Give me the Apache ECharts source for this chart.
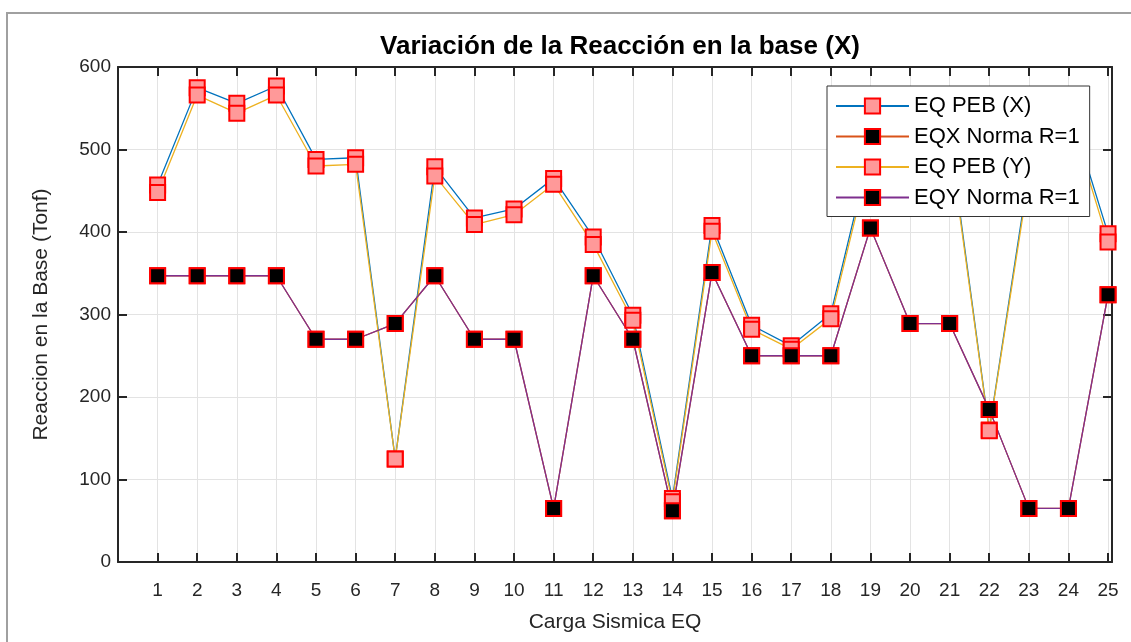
<!DOCTYPE html>
<html>
<head>
<meta charset="utf-8">
<title>Variación de la Reacción en la base (X)</title>
<script src="https://cdn.jsdelivr.net/npm/echarts@6/dist/echarts.min.js"></script>
<style>
  html, body { margin: 0; padding: 0; background: #fff; }
  #chart { width: 1131px; height: 642px; }
</style>
</head>
<body>
<div id="chart"></div>
<script>
// Load case numbers (Carga Sismica EQ)
const cargas = [1, 2, 3, 4, 5, 6, 7, 8, 9, 10, 11, 12, 13, 14, 15, 16, 17, 18, 19, 20, 21, 22, 23, 24, 25];

// Base reaction (Tonf) per load case
const eqPebX   = [457, 575, 556, 577, 488, 490, 125, 479, 417, 428, 465, 394, 299, 77, 408, 287, 262, 301, 500, 512, 516, 160, 473, 553, 398];
const eqxNorma = [347, 347, 347, 347, 270, 270, 289, 347, 270, 270, 65, 347, 270, 62, 351, 250, 250, 250, 405, 289, 289, 185, 65, 65, 324];
const eqPebY   = [448, 566, 544, 566, 480, 482, 125, 468, 409, 421, 458, 385, 293, 73, 401, 282, 258, 295, 492, 504, 510, 159, 466, 546, 388];
const eqyNorma = [347, 347, 347, 347, 270, 270, 289, 347, 270, 270, 65, 347, 270, 62, 351, 250, 250, 250, 405, 289, 289, 185, 65, 65, 324];

const yTicks = [0, 100, 200, 300, 400, 500, 600];

const chart = echarts.init(document.getElementById('chart'), null, { renderer: 'canvas' });

const FONT = 'Liberation Sans, Arial, Helvetica, sans-serif';
const AXIS_COLOR = '#262626';
const GRID_COLOR = '#e3e3e3';

function pairs(values) {
  return cargas.map((c, i) => [c, values[i]]);
}

function lineSeries(name, values, lineColor, fill) {
  return {
    name: name,
    type: 'line',
    data: pairs(values),
    symbol: 'rect',
    symbolSize: 15,
    showSymbol: true,
    lineStyle: { color: lineColor, width: 1.3 },
    itemStyle: { color: fill, borderColor: '#ff0000', borderWidth: 2 },
    emphasis: { disabled: true },
    animation: false
  };
}

const boxLine = { show: true, onZero: false, lineStyle: { color: AXIS_COLOR, width: 2 } };
const boxTick = { show: true, inside: true, length: 9, lineStyle: { color: AXIS_COLOR, width: 2 } };

const option = {
  backgroundColor: '#ffffff',
  animation: false,
  title: {
    text: 'Variación de la Reacción en la base (X)',
    left: 615,
    top: 29,
    textAlign: 'center',
    textStyle: { fontFamily: FONT, fontSize: 26, fontWeight: 'bold', color: '#000' }
  },
  grid: { left: 118, right: 19, top: 67, bottom: 80, containLabel: false },
  legend: {
    orient: 'vertical',
    left: 827,
    top: 86,
    padding: [9, 10, 8, 8],
    itemWidth: 73,
    itemHeight: 19,
    itemGap: 8.5,
    backgroundColor: '#ffffff',
    borderColor: '#333333',
    borderWidth: 1,
    textStyle: { fontFamily: FONT, fontSize: 22, color: '#000', lineHeight: 19 },
    data: ['EQ PEB (X)', 'EQX Norma R=1', 'EQ PEB (Y)', 'EQY Norma R=1']
  },
  xAxis: [
    {
      type: 'value',
      min: 0,
      max: 25.1,
      interval: 1,
      name: 'Carga Sismica EQ',
      nameLocation: 'middle',
      nameGap: 50,
      nameTextStyle: { fontFamily: FONT, fontSize: 21, color: AXIS_COLOR },
      axisLine: boxLine,
      axisTick: boxTick,
      axisLabel: {
        margin: 19,
        fontFamily: FONT, fontSize: 19, color: AXIS_COLOR,
        formatter: v => (Number.isInteger(v) && cargas.includes(v)) ? String(v) : ''
      },
      splitLine: { show: true, lineStyle: { color: GRID_COLOR, width: 1 } }
    },
    {
      type: 'value',
      position: 'top',
      min: 0,
      max: 25.1,
      interval: 1,
      axisLine: boxLine,
      axisTick: boxTick,
      axisLabel: { show: false },
      splitLine: { show: false }
    }
  ],
  yAxis: [
    {
      type: 'value',
      min: yTicks[0],
      max: yTicks[yTicks.length - 1],
      interval: 100,
      name: 'Reaccion en la Base (Tonf)',
      nameLocation: 'middle',
      nameGap: 66,
      nameTextStyle: { fontFamily: FONT, fontSize: 21, color: AXIS_COLOR },
      axisLine: boxLine,
      axisTick: boxTick,
      axisLabel: { margin: 7, fontFamily: FONT, fontSize: 19, color: AXIS_COLOR },
      splitLine: { show: true, lineStyle: { color: GRID_COLOR, width: 1 } }
    },
    {
      type: 'value',
      position: 'right',
      min: yTicks[0],
      max: yTicks[yTicks.length - 1],
      interval: 100,
      axisLine: boxLine,
      axisTick: boxTick,
      axisLabel: { show: false },
      splitLine: { show: false }
    }
  ],
  graphic: [
    {
      type: 'polyline',
      silent: true,
      shape: { points: [[7, 642], [7, 13], [1131, 13]] },
      style: { stroke: '#a0a0a0', lineWidth: 2, fill: null }
    }
  ],
  series: [
    lineSeries('EQ PEB (X)', eqPebX, '#0072BD', '#ff9999'),
    lineSeries('EQX Norma R=1', eqxNorma, '#D95319', '#000000'),
    lineSeries('EQ PEB (Y)', eqPebY, '#EDB120', '#ff9999'),
    lineSeries('EQY Norma R=1', eqyNorma, '#7E2F8E', '#000000')
  ]
};

chart.setOption(option);
</script>
</body>
</html>
